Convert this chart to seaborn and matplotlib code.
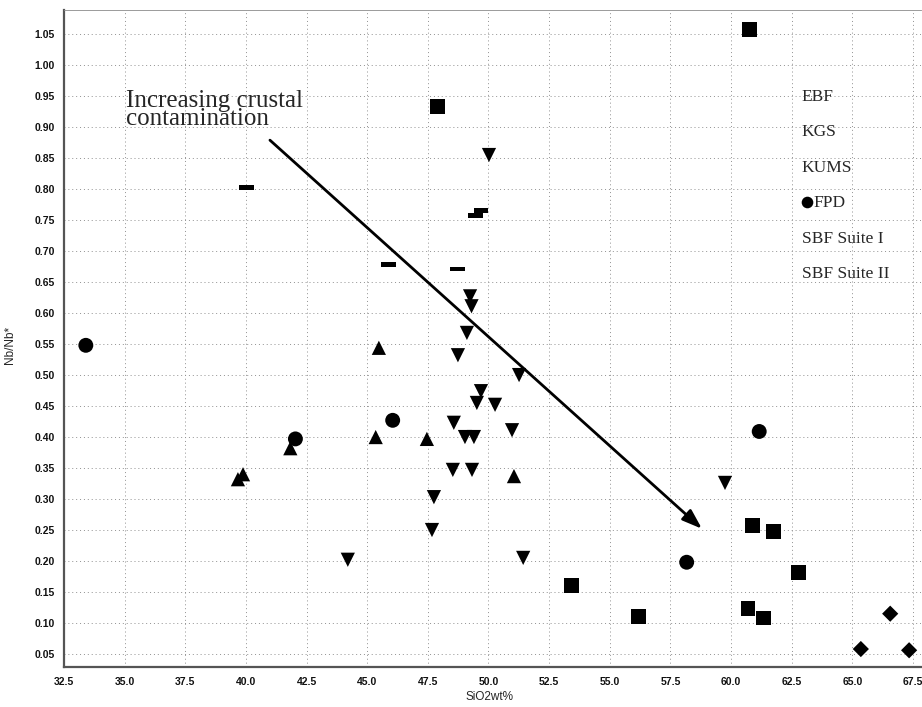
import numpy as np
import pandas as pd
import matplotlib
matplotlib.use("Agg")
import matplotlib.pyplot as plt
import seaborn as sns

# ---- data: SiO2 (wt%) and Nb/Nb* for each suite ----
groups = ["EBF", "KGS", "KUMS", "FPD", "SBF Suite I", "SBF Suite II"]

ebf_sio2 = [49.24, 49.30, 49.11, 48.74, 51.26, 49.69, 49.52, 50.27, 48.57, 50.97,
            49.03, 49.40, 48.53, 49.32, 47.75, 47.67, 51.43, 44.20, 50.02, 59.75]
ebf_nb = [0.627, 0.611, 0.568, 0.532, 0.500, 0.474, 0.455, 0.452, 0.423, 0.411,
          0.400, 0.400, 0.347, 0.347, 0.303, 0.250, 0.205, 0.202, 0.855, 0.326]

kgs_sio2 = [60.75, 47.91, 60.90, 61.74, 62.78, 60.70, 61.33, 56.20, 53.44]
kgs_nb = [1.058, 0.934, 0.258, 0.248, 0.181, 0.124, 0.108, 0.111, 0.161]

kums_sio2 = [45.48, 45.35, 47.46, 51.05, 41.83, 39.67, 39.88]
kums_nb = [0.544, 0.400, 0.397, 0.337, 0.382, 0.332, 0.340]

fpd_sio2 = [33.40, 42.04, 46.05, 58.17, 61.16]
fpd_nb = [0.548, 0.397, 0.427, 0.198, 0.409]

sbf1_sio2 = [40.04, 45.87, 48.74, 49.48, 49.69]
sbf1_nb = [0.803, 0.679, 0.671, 0.758, 0.766]

sbf2_sio2 = [66.56, 65.35, 67.34]
sbf2_nb = [0.115, 0.058, 0.056]

x_ticks = [32.5, 35.0, 37.5, 40.0, 42.5, 45.0, 47.5, 50.0, 52.5, 55.0, 57.5,
           60.0, 62.5, 65.0, 67.5]
y_ticks = [0.05, 0.10, 0.15, 0.20, 0.25, 0.30, 0.35, 0.40, 0.45, 0.50, 0.55,
           0.60, 0.65, 0.70, 0.75, 0.80, 0.85, 0.90, 0.95, 1.00, 1.05]

# crustal-contamination trend arrow (start -> end, data units)
trend_start = (40.99, 0.879)
trend_end = (58.80, 0.252)

frames = []
for name, xs, ys in [("EBF", ebf_sio2, ebf_nb), ("KGS", kgs_sio2, kgs_nb),
                     ("KUMS", kums_sio2, kums_nb), ("FPD", fpd_sio2, fpd_nb),
                     ("SBF Suite I", sbf1_sio2, sbf1_nb),
                     ("SBF Suite II", sbf2_sio2, sbf2_nb)]:
    frames.append(pd.DataFrame({"SiO2": xs, "NbNb": ys, "group": name}))
df = pd.concat(frames, ignore_index=True)

# ---- styling ----
sns.set_style("white")
plt.rcParams["font.family"] = ["Liberation Sans", "DejaVu Sans"]
serif = ["Liberation Serif", "DejaVu Serif"]

bar_marker = np.array([(-1, -0.32), (1, -0.32), (1, 0.32), (-1, 0.32), (-1, -0.32)])
marker_map = {"EBF": "v", "KGS": "s", "KUMS": "^", "FPD": "o",
              "SBF Suite I": bar_marker, "SBF Suite II": "D"}
size_map = {"EBF": 105, "KGS": 115, "KUMS": 105, "FPD": 115,
            "SBF Suite I": 115, "SBF Suite II": 68}

fig = plt.figure(figsize=(9.22, 7.07), dpi=100)
ax = fig.add_axes([64 / 922, 1 - 667 / 707, 857 / 922, 657 / 707])

for g in groups:
    sub = df[df["group"] == g]
    sns.scatterplot(data=sub, x="SiO2", y="NbNb", marker=marker_map[g],
                    s=size_map[g], color="black", edgecolor="none",
                    linewidth=0, legend=False, ax=ax, zorder=3)

ax.set_xlim(32.5, 67.83)
ax.set_ylim(0.029, 1.089)
ax.set_xticks(x_ticks)
ax.set_yticks(y_ticks)
ax.set_xticklabels([f"{v:.1f}" for v in x_ticks])
ax.set_yticklabels([f"{v:.2f}" for v in y_ticks])
ax.tick_params(axis="both", labelsize=7.5, length=2.5, width=0.8,
               color="#555555", pad=4)
for lab in ax.get_xticklabels() + ax.get_yticklabels():
    lab.set_fontweight("bold")
    lab.set_color("#111111")
ax.tick_params(axis="x", pad=5)

ax.grid(True, linestyle=(0, (1, 3)), color="#909090", linewidth=0.7)
ax.set_axisbelow(True)

for side in ("left", "bottom"):
    ax.spines[side].set_color("#555555")
    ax.spines[side].set_linewidth(1.6)
ax.spines["top"].set_color("#8a8a8a")
ax.spines["top"].set_linewidth(0.6)
ax.spines["top"].set_linestyle((0, (3, 1)))
ax.spines["right"].set_visible(False)

ax.set_xlabel("SiO2wt%", fontsize=8.5)
ax.set_ylabel("Nb/Nb*", fontsize=8.5)
ax.xaxis.set_label_coords(0.497, -0.036)
ax.yaxis.set_label_coords(-0.056, 0.49)

# trend arrow and its caption
ax.annotate("", xy=trend_end, xytext=trend_start,
            arrowprops=dict(arrowstyle="-|>,head_length=0.8,head_width=0.28",
                            color="black", lw=2.0, mutation_scale=15,
                            shrinkA=0, shrinkB=0), zorder=4)
ax.text(35.04, 0.903, "Increasing crustal\ncontamination", fontsize=18,
        family=serif, va="baseline", ha="left", linespacing=0.78)

# key: suite names, with the FPD symbol
key_y = [0.861, 0.808, 0.753, 0.700, 0.645, 0.592]
for g, yy in zip(groups, key_y):
    xx = 0.874 if g == "FPD" else 0.861
    ax.text(xx, yy, g, transform=ax.transAxes, fontsize=12.5,
            family=serif, va="baseline", ha="left")
ax.scatter([0.867], [0.708], transform=ax.transAxes, marker="o", s=70,
           color="black", linewidth=0, clip_on=False, zorder=5)

fig.savefig("out.png", dpi=100)
